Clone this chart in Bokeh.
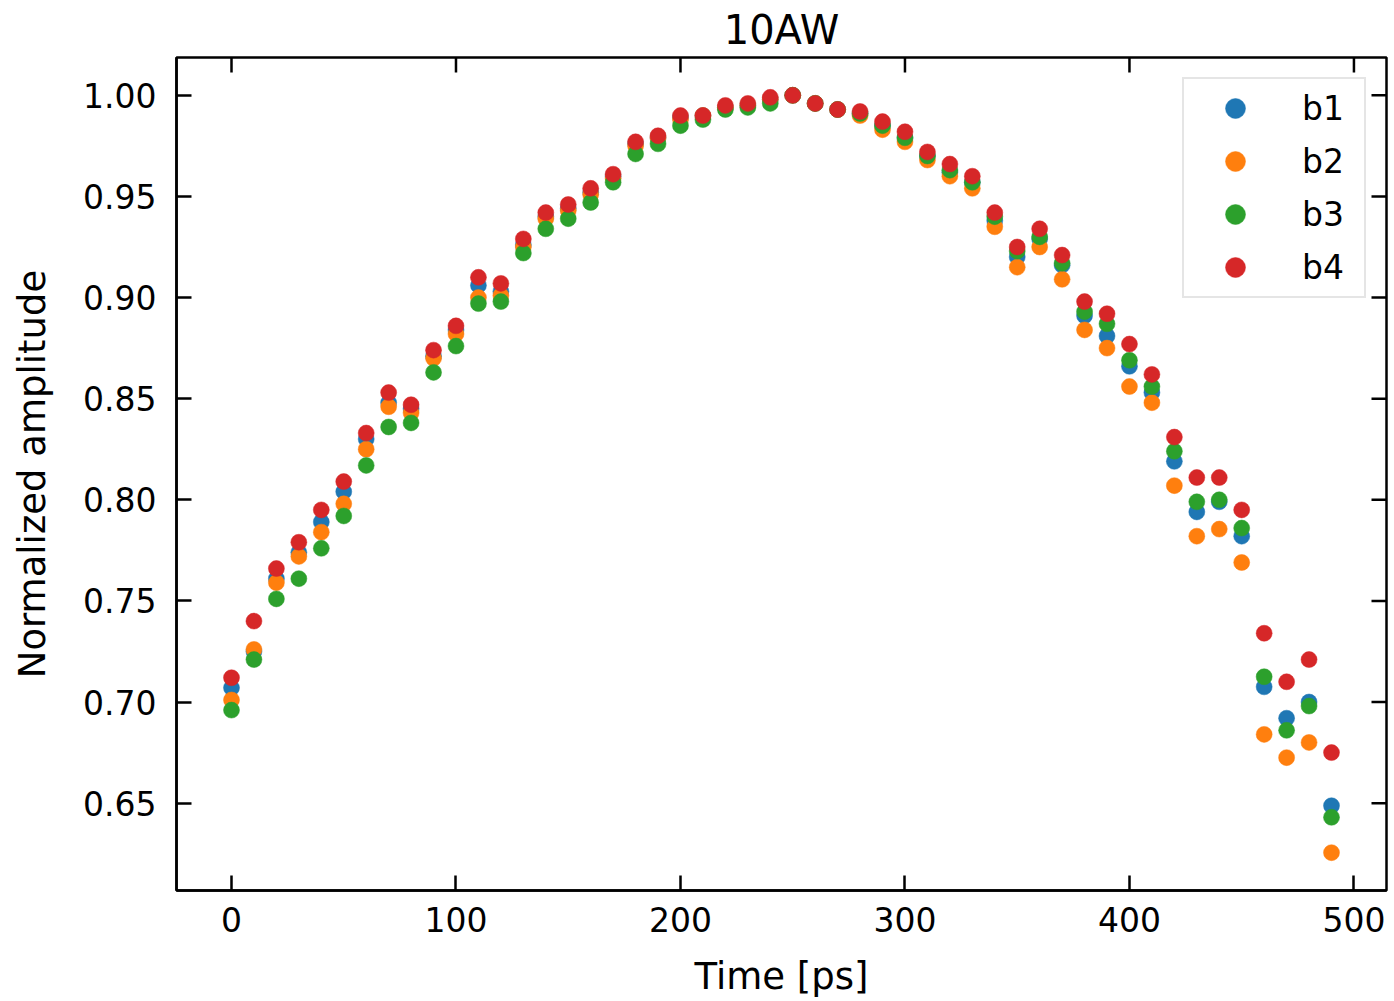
from bokeh.plotting import figure
from bokeh.models import (Range1d, FixedTicker, NumeralTickFormatter,
                          ColumnDataSource, Legend, LegendItem, Title)
from bokeh.embed import file_html
from bokeh.resources import INLINE

time_ps = [0, 10, 20, 30, 40, 50, 60, 70, 80, 90,
           100, 110, 120, 130, 140, 150, 160, 170, 180, 190,
           200, 210, 220, 230, 240, 250, 260, 270, 280, 290,
           300, 310, 320, 330, 340, 350, 360, 370, 380, 390,
           400, 410, 420, 430, 440, 450, 460, 470, 480, 490]

b1 = [0.707, 0.725, 0.761, 0.774, 0.789, 0.804, 0.830, 0.848, 0.845, 0.871,
      0.884, 0.906, 0.903, 0.926, 0.940, 0.944, 0.952, 0.960, 0.976, 0.979,
      0.989, 0.990, 0.994, 0.995, 0.998, 1.000, 0.996, 0.993, 0.991, 0.985,
      0.979, 0.970, 0.962, 0.957, 0.938, 0.920, 0.929, 0.916, 0.891, 0.881,
      0.866, 0.853, 0.819, 0.794, 0.799, 0.782, 0.7075, 0.692, 0.700, 0.6487]

b2 = [0.701, 0.726, 0.759, 0.772, 0.784, 0.798, 0.825, 0.846, 0.843, 0.870,
      0.882, 0.900, 0.901, 0.925, 0.939, 0.943, 0.951, 0.959, 0.975, 0.979,
      0.988, 0.990, 0.994, 0.995, 0.998, 1.000, 0.996, 0.993, 0.990, 0.983,
      0.977, 0.968, 0.960, 0.954, 0.935, 0.915, 0.925, 0.909, 0.884, 0.875,
      0.856, 0.848, 0.807, 0.782, 0.7855, 0.769, 0.684, 0.6725, 0.680, 0.6255]

b3 = [0.696, 0.721, 0.751, 0.761, 0.776, 0.792, 0.817, 0.836, 0.838, 0.863,
      0.876, 0.897, 0.898, 0.922, 0.934, 0.939, 0.947, 0.957, 0.971, 0.976,
      0.985, 0.988, 0.993, 0.994, 0.996, 1.000, 0.996, 0.993, 0.991, 0.985,
      0.979, 0.970, 0.963, 0.957, 0.940, 0.923, 0.930, 0.917, 0.893, 0.887,
      0.869, 0.856, 0.824, 0.799, 0.800, 0.786, 0.7125, 0.686, 0.698, 0.643]

b4 = [0.712, 0.740, 0.766, 0.779, 0.795, 0.809, 0.833, 0.853, 0.847, 0.874,
      0.886, 0.910, 0.907, 0.929, 0.942, 0.946, 0.954, 0.961, 0.977, 0.980,
      0.990, 0.990, 0.995, 0.996, 0.999, 1.000, 0.996, 0.993, 0.992, 0.987,
      0.982, 0.972, 0.966, 0.960, 0.942, 0.925, 0.934, 0.921, 0.898, 0.892,
      0.877, 0.862, 0.831, 0.811, 0.811, 0.795, 0.734, 0.710, 0.721, 0.675]

series_names = ["b1", "b2", "b3", "b4"]
series_values = [b1, b2, b3, b4]
series_colors = ["#1f77b4", "#ff7f0e", "#2ca02c", "#d62728"]

x_ticks = [0, 100, 200, 300, 400, 500]
y_ticks = [0.65, 0.70, 0.75, 0.80, 0.85, 0.90, 0.95, 1.00]

FONT = "DejaVu Sans"
X0, X1 = -24.5, 514.5
Y0, Y1 = 0.6068, 1.0187

W, H = 1394, 1000
BL, BR, BT, BB = 176, 8, 57, 110
TICK = 15

p = figure(width=W, height=H, output_backend="svg", toolbar_location=None,
           x_range=Range1d(X0, X1), y_range=Range1d(Y0, Y1),
           min_border_left=BL, min_border_right=BR, min_border_top=BT,
           min_border_bottom=BB)

p.title = Title(text="10AW", align="center", text_font=FONT, text_font_size="40px",
                text_font_style="normal", text_color="black", standoff=9)

p.xgrid.visible = False
p.ygrid.visible = False
p.outline_line_color = "black"
p.outline_line_width = 2.5
p.outline_line_alpha = 1.0
p.background_fill_color = "white"
p.border_fill_color = "white"

xaxis = p.xaxis[0]
yaxis = p.yaxis[0]
xaxis.ticker = FixedTicker(ticks=x_ticks)
yaxis.ticker = FixedTicker(ticks=y_ticks)
yaxis.formatter = NumeralTickFormatter(format="0.00")
xaxis.axis_label = "Time [ps]"
yaxis.axis_label = "Normalized amplitude"
for ax in (xaxis, yaxis):
    ax.axis_line_color = "black"
    ax.axis_line_width = 2.5
    ax.major_tick_in = TICK
    ax.major_tick_out = 0
    ax.major_tick_line_width = 2.5
    ax.major_tick_line_color = "black"
    ax.minor_tick_line_color = None
    ax.major_label_text_font = FONT
    ax.major_label_text_font_size = "33px"
    ax.major_label_text_color = "black"
    ax.axis_label_text_font = FONT
    ax.axis_label_text_font_size = "37px"
    ax.axis_label_text_font_style = "normal"
    ax.axis_label_text_color = "black"
xaxis.major_label_standoff = 16
xaxis.axis_label_standoff = 20
yaxis.major_label_standoff = 20
yaxis.axis_label_standoff = 26

# inward ticks on top and right edges (mirror of the bottom/left ticks)
frame_w = W - BL - BR
frame_h = H - BT - BB
dy = TICK * (Y1 - Y0) / frame_h
dx = TICK * (X1 - X0) / frame_w
p.segment(x0=x_ticks, y0=[Y1] * len(x_ticks), x1=x_ticks, y1=[Y1 - dy] * len(x_ticks),
          line_color="black", line_width=2.5, line_cap="butt")
p.segment(x0=[X1] * len(y_ticks), y0=y_ticks, x1=[X1 - dx] * len(y_ticks), y1=y_ticks,
          line_color="black", line_width=2.5, line_cap="butt")

items = []
for name, vals, col in zip(series_names, series_values, series_colors):
    src = ColumnDataSource(data=dict(x=time_ps, y=vals))
    r = p.scatter("x", "y", source=src, size=16, fill_color=col, line_color=col,
                  line_width=0.5)
    items.append(LegendItem(label=name, renderers=[r]))

legend = Legend(items=items, location="top_right", margin=20,
                label_text_font=FONT, label_text_font_size="33px",
                label_text_color="black",
                glyph_width=94, glyph_height=50, label_height=50, label_width=58,
                spacing=3, padding=4, label_standoff=20,
                border_line_color="#cccccc", border_line_width=2,
                background_fill_color="white", background_fill_alpha=0.8)
p.add_layout(legend)

open("out.html", "w").write(file_html(p, INLINE))
